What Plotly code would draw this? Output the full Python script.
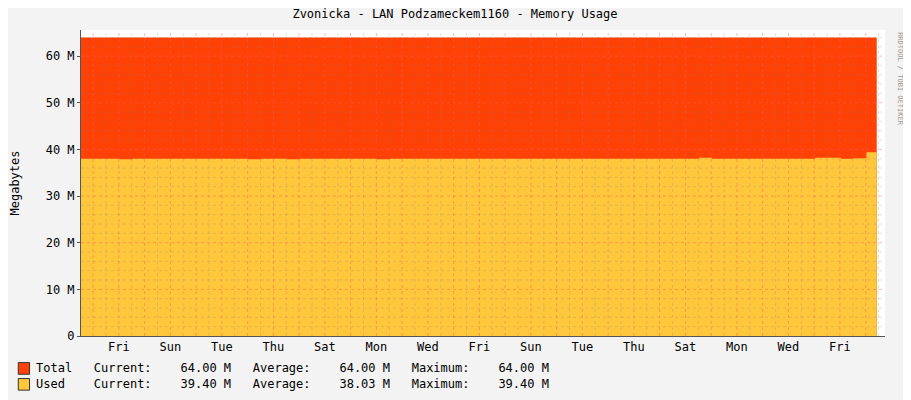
import plotly.graph_objects as go

# time axis in days, 0 = first Friday
t_start = -1.47
step = 0.5
used = [38.0, 38.0, 38.0, 37.9, 38.0, 38.0, 38.0, 38.0, 38.0, 38.0,
        38.0, 38.0, 38.0, 37.9, 38.0, 38.0, 37.9, 38.0, 38.0, 38.0,
        38.0, 38.0, 38.0, 37.9, 38.0, 38.0, 38.0, 38.0, 38.0, 38.0,
        38.0, 38.0, 38.0, 38.0, 38.0, 38.0, 38.0, 38.0, 38.0, 38.0,
        38.0, 38.0, 38.0, 38.0, 38.0, 38.0, 38.0, 38.0, 38.2, 38.0,
        38.0, 38.0, 38.0, 38.0, 38.0, 38.0, 38.0, 38.2, 38.2, 38.0,
        38.1, 39.4]
total = [64.0] * len(used)
x = [t_start + i * step for i in range(len(used))]
x_end = x[-1] + 0.4
day_ticks = [0, 2, 4, 6, 8, 10, 12, 14, 16, 18, 20, 22, 24, 26, 28]
day_labels = ["Fri", "Sun", "Tue", "Thu", "Sat", "Mon", "Wed", "Fri",
              "Sun", "Tue", "Thu", "Sat", "Mon", "Wed", "Fri"]
y_ticks = [0, 10, 20, 30, 40, 50, 60]
y_labels = ["0", "10 M", "20 M", "30 M", "40 M", "50 M", "60 M"]

font = "DejaVu Sans Mono"
xs = x + [x_end]

fig = go.Figure()
fig.add_trace(go.Scatter(x=xs, y=total + [total[-1]], mode="lines", line=dict(width=0, shape="hv"),
                         fill="tozeroy", fillcolor="#FF4105", hoverinfo="skip"))
fig.add_trace(go.Scatter(x=xs, y=used + [used[-1]], mode="lines", line=dict(width=0, shape="hv"),
                         fill="tozeroy", fillcolor="#FFC73B", hoverinfo="skip"))

# grid drawn over the areas
shapes = []
d = -1.0
while d < 29.7:
    major = abs(d - round(d)) < 1e-6
    shapes.append(dict(type="line", xref="x", yref="y", x0=d, x1=d, y0=0, y1=65.6, layer="above",
                       line=dict(color="rgba(255,90,90,0.45)" if major else "rgba(130,130,130,0.25)",
                                 width=1, dash="dot")))
    d += 0.5
for v in range(2, 66, 2):
    major = v % 10 == 0
    shapes.append(dict(type="line", xref="x", yref="y", x0=t_start, x1=29.75, y0=v, y1=v, layer="above",
                       line=dict(color="rgba(255,90,90,0.45)" if major else "rgba(130,130,130,0.25)",
                                 width=1, dash="dot")))
# legend boxes
shapes.append(dict(type="rect", xref="paper", yref="paper", x0=-0.078, x1=-0.064, y0=-0.125, y1=-0.087,
                   fillcolor="#FF4105", line=dict(color="#333", width=1)))
shapes.append(dict(type="rect", xref="paper", yref="paper", x0=-0.078, x1=-0.064, y0=-0.177, y1=-0.139,
                   fillcolor="#FFC73B", line=dict(color="#333", width=1)))

annotations = [
    dict(text="Total   Current:    64.00 M   Average:    64.00 M   Maximum:    64.00 M",
         xref="paper", yref="paper", x=-0.059, y=-0.106, xanchor="left", yanchor="middle",
         showarrow=False, font=dict(family=font, size=12, color="#000")),
    dict(text="Used    Current:    39.40 M   Average:    38.03 M   Maximum:    39.40 M",
         xref="paper", yref="paper", x=-0.059, y=-0.158, xanchor="left", yanchor="middle",
         showarrow=False, font=dict(family=font, size=12, color="#000")),
    dict(text="RRDTOOL / TOBI OETIKER", xref="paper", yref="paper", x=1.011, y=1.0,
         xanchor="left", yanchor="top", textangle=90, showarrow=False,
         font=dict(family=font, size=7, color="#999")),
]

fig.update_layout(
    width=903, height=392,
    margin=dict(l=73, r=26, t=22, b=64, autoexpand=False),
    paper_bgcolor="#F3F3F3", plot_bgcolor="#FFFFFF",
    showlegend=False,
    title=dict(text="Zvonicka - LAN Podzameckem1160 - Memory Usage", x=0.495, xref="container", y=0.995,
               yanchor="top", font=dict(family=font, size=12, color="#000")),
    font=dict(family=font, size=12, color="#000"),
    shapes=shapes, annotations=annotations,
    xaxis=dict(range=[t_start, 29.75], tickvals=day_ticks, ticktext=day_labels, showgrid=False,
               zeroline=False, showline=True, linecolor="#555", ticks="", automargin=False),
    yaxis=dict(range=[0, 65.6], tickvals=y_ticks, ticktext=y_labels, showgrid=False, zeroline=False,
               showline=True, linecolor="#555", ticks="outside", ticklen=3, tickcolor="#555",
               automargin=False, title=dict(text="Megabytes", font=dict(size=12), standoff=24)),
)

fig.write_html("out.html")
